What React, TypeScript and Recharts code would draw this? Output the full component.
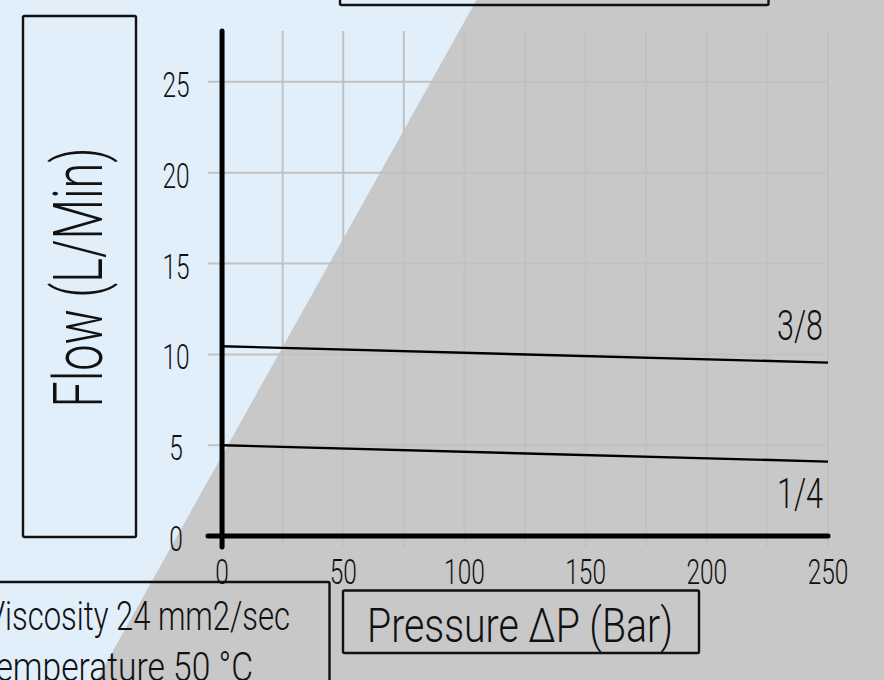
import React from 'react';
import {
  LineChart,
  Line,
  XAxis,
  YAxis,
  CartesianGrid,
  ReferenceLine,
} from 'recharts';

// flow curves (pressure in bar, flow in L/min)
const pressure = [0, 250];
const flow38 = [10.45, 9.55];
const flow14 = [5.0, 4.1];
const seriesNames = ['3/8', '1/4'];

const xTicks = [0, 25, 50, 75, 100, 125, 150, 175, 200, 225, 250];
const yTicks = [0, 5, 10, 15, 20, 25];

const yTitle = 'Flow (L/Min)';
const xTitle = 'Pressure ΔP (Bar)';
const notes = ['Viscosity 24 mm2/sec', 'Temperature 50 °C'];

const data = pressure.map((p, i) => ({ p, s38: flow38[i], s14: flow14[i] }));

const W = 884;
const H = 680;
const FONT = 'Roboto, "DejaVu Sans", sans-serif';
const WEIGHT = 300;
const INK = '#111';
const BLUE = '#e1effb';
const GREY = '#c8c8c8';
const GRID = '#c1c1c1';

function XTick({ x, y, payload }: any) {
  if (payload.value % 50 !== 0) return null;
  return (
    <text
      transform={`translate(${x},${y + 37}) scale(0.7,1)`}
      textAnchor="middle"
      fontFamily={FONT}
      fontWeight={WEIGHT}
      fontSize={35}
      fill={INK}
    >
      {payload.value}
    </text>
  );
}

function YTick({ x, y, payload }: any) {
  return (
    <text
      transform={`translate(${x},${y + 15}) scale(0.7,1)`}
      textAnchor="middle"
      fontFamily={FONT}
      fontWeight={WEIGHT}
      fontSize={35}
      fill={INK}
    >
      {payload.value}
    </text>
  );
}

// name label at the right end of each curve, above or below it
function endLabel(name: string, dy: number) {
  return (props: any) => {
    const { x, y, index } = props;
    if (index !== data.length - 1) return null;
    return (
      <text
        key={name}
        x={x - 5}
        y={y + dy}
        textAnchor="end"
        fontFamily={FONT}
        fontWeight={WEIGHT}
        fontSize={43}
        textLength={46}
        lengthAdjust="spacingAndGlyphs"
        fill={INK}
      >
        {name}
      </text>
    );
  };
}

export default function App() {
  return (
    <div style={{ position: 'absolute', left: 0, top: 0, width: W, height: H, overflow: 'hidden' }}>
      <svg width={W} height={H} style={{ position: 'absolute', left: 0, top: 0 }}>
        <rect x={0} y={0} width={W} height={H} fill={BLUE} />
        <polygon points="476.5,0 884,0 884,680 96.7,680" fill={GREY} />
      </svg>

      <div style={{ position: 'absolute', left: 0, top: 0 }}>
        <LineChart width={W} height={H} data={data} margin={{ top: 31, right: 56, left: 148, bottom: 83 }}>
          <CartesianGrid vertical={false} syncWithTicks stroke={GRID} strokeWidth={2} />
          <XAxis
            type="number"
            dataKey="p"
            domain={[-5.8, 250]}
            ticks={xTicks}
            allowDataOverflow
            height={50}
            axisLine={false}
            tickLine={false}
            tickSize={0}
            tickMargin={0}
            tick={<XTick />}
            interval={0}
          />
          <YAxis
            type="number"
            domain={[-0.6, 27.8]}
            ticks={yTicks}
            allowDataOverflow
            width={60}
            axisLine={false}
            tickLine={false}
            tickSize={0}
            tickMargin={32}
            tick={<YTick />}
            interval={0}
          />
          <ReferenceLine y={0} stroke="#000" strokeWidth={5} strokeLinecap="round" />
          <CartesianGrid horizontal={false} syncWithTicks stroke={GRID} strokeWidth={2} />
          <ReferenceLine x={0} stroke="#000" strokeWidth={5} strokeLinecap="round" />
          <Line
            dataKey="s38"
            name={seriesNames[0]}
            stroke="#000"
            strokeWidth={2.4}
            dot={false}
            isAnimationActive={false}
            label={endLabel(seriesNames[0], -23)}
          />
          <Line
            dataKey="s14"
            name={seriesNames[1]}
            stroke="#000"
            strokeWidth={2.4}
            dot={false}
            isAnimationActive={false}
            label={endLabel(seriesNames[1], 46)}
          />
        </LineChart>
      </div>

      <svg width={W} height={H} style={{ position: 'absolute', left: 0, top: 0, pointerEvents: 'none' }}>
        <g fill="none" stroke={INK} strokeWidth={2.4}>
          <rect x={340} y={-100} width={428.5} height={105} rx={1.5} />
          <rect x={23} y={16} width={113} height={521} rx={1.5} />
          <rect x={343} y={590.5} width={356} height={62.5} rx={1.5} />
          <rect x={-10} y={582} width={339.5} height={200} rx={1.5} />
        </g>
        <text
          transform="translate(102,277.5) rotate(-90)"
          textAnchor="middle"
          fontFamily={FONT}
          fontWeight={WEIGHT}
          fontSize={68}
          textLength={260}
          lengthAdjust="spacingAndGlyphs"
          fill={INK}
        >
          {yTitle}
        </text>
        <text
          x={520}
          y={642}
          textAnchor="middle"
          fontFamily={FONT}
          fontWeight={WEIGHT}
          fontSize={49}
          textLength={306}
          lengthAdjust="spacingAndGlyphs"
          fill={INK}
        >
          {xTitle}
        </text>
        <text
          x={290}
          y={630}
          textAnchor="end"
          fontFamily={FONT}
          fontWeight={WEIGHT}
          fontSize={41}
          textLength={304}
          lengthAdjust="spacingAndGlyphs"
          fill={INK}
        >
          {notes[0]}
        </text>
        <text
          x={253}
          y={681}
          textAnchor="end"
          fontFamily={FONT}
          fontWeight={WEIGHT}
          fontSize={41}
          textLength={276}
          lengthAdjust="spacingAndGlyphs"
          fill={INK}
        >
          {notes[1]}
        </text>
      </svg>
    </div>
  );
}
